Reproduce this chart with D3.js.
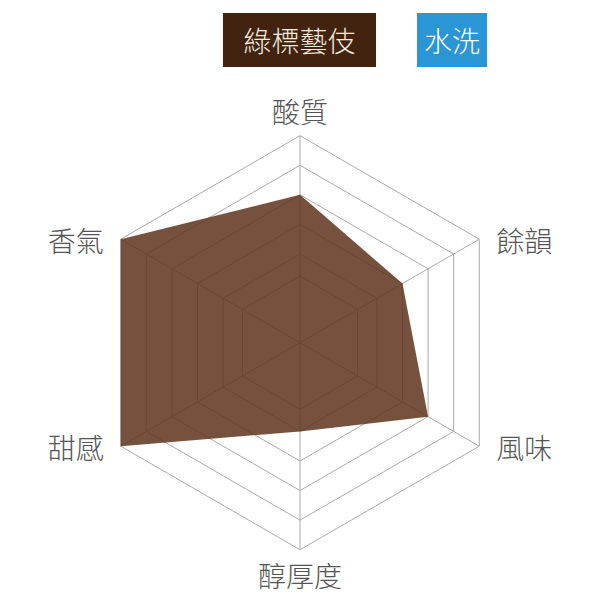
<!DOCTYPE html>
<html>
<head>
<meta charset="utf-8">
<script src="https://cdn.jsdelivr.net/npm/d3@7"></script>
<style>
  html, body { margin: 0; padding: 0; background: #fff; }
  svg { display: block; font-family: "Noto Sans CJK TC", "Noto Sans", sans-serif; }
</style>
</head>
<body>
<div class="radar"></div>
<script>
// Chart data
const axes = ["酸質", "餘韻", "風味", "醇厚度", "甜感", "香氣"];
const scores = [5, 4, 5, 3, 7, 7];
const ringLevels = [2.25, 3, 4, 5, 6, 7];
const tags = ["綠標藝伎", "水洗"];
const tagColors = ["#41230f", "#2a96d6"];
const tagTextColors = ["#f4ebdf", "#ffffff"];

const width = 600, height = 600;
const cx = 300, cy = 342.7, radius = 207;

const svg = d3.select(".radar").append("svg")
    .attr("width", width)
    .attr("height", height);

const r = d3.scaleLinear().domain([0, 7]).range([0, radius]);
const angle = d3.scalePoint().domain(axes).range([0, 2 * Math.PI * (axes.length - 1) / axes.length]);

const px = (a, v) => cx + r(v) * Math.sin(angle(a));
const py = (a, v) => cy - r(v) * Math.cos(angle(a));

// Tags on top
const tagBoxes = [{x: 223, w: 153}, {x: 417, w: 70}];
const tagG = svg.selectAll("g.tag")
    .data(tags)
    .enter().append("g")
    .attr("class", "tag");

tagG.append("rect")
    .attr("x", (d, i) => tagBoxes[i].x)
    .attr("y", 13)
    .attr("width", (d, i) => tagBoxes[i].w)
    .attr("height", 54)
    .attr("fill", (d, i) => tagColors[i]);

tagG.append("text")
    .attr("x", (d, i) => tagBoxes[i].x + tagBoxes[i].w / 2)
    .attr("y", 40)
    .attr("text-anchor", "middle")
    .attr("dominant-baseline", "central")
    .attr("font-size", 28)
    .attr("font-weight", 300)
    .attr("fill", (d, i) => tagTextColors[i])
    .text(d => d);

// Grid rings
const line = d3.line().curve(d3.curveLinearClosed);

svg.selectAll("path.ring")
    .data(ringLevels)
    .enter().append("path")
    .attr("class", "ring")
    .attr("d", lv => line(axes.map(a => [px(a, lv), py(a, lv)])))
    .attr("fill", "none")
    .attr("stroke", "#aaaaaa")
    .attr("stroke-width", 1);

// Spokes
svg.selectAll("line.spoke")
    .data(axes)
    .enter().append("line")
    .attr("class", "spoke")
    .attr("x1", cx)
    .attr("y1", cy)
    .attr("x2", a => px(a, 7))
    .attr("y2", a => py(a, 7))
    .attr("stroke", "#aaaaaa")
    .attr("stroke-width", 1);

// Data area
svg.append("path")
    .datum(axes.map((a, i) => [px(a, scores[i]), py(a, scores[i])]))
    .attr("d", line)
    .attr("fill", "rgb(94,50,28)")
    .attr("fill-opacity", 0.85)
    .attr("stroke", "none");

// Axis labels
svg.selectAll("text.axisLabel")
    .data(axes)
    .enter().append("text")
    .attr("class", "axisLabel")
    .attr("x", a => {
        const s = Math.sin(angle(a));
        if (Math.abs(s) < 0.01) return cx;
        return px(a, 7) + (s > 0 ? 17 : -17);
    })
    .attr("y", a => {
        const c = Math.cos(angle(a));
        if (Math.abs(Math.sin(angle(a))) < 0.01) return py(a, 7) - c * 25;
        return py(a, 7) + 1;
    })
    .attr("text-anchor", a => {
        const s = Math.sin(angle(a));
        if (Math.abs(s) < 0.01) return "middle";
        return s > 0 ? "start" : "end";
    })
    .attr("dominant-baseline", "central")
    .attr("font-size", 28)
    .attr("font-weight", 300)
    .attr("fill", "#555")
    .text(a => a);
</script>
</body>
</html>
